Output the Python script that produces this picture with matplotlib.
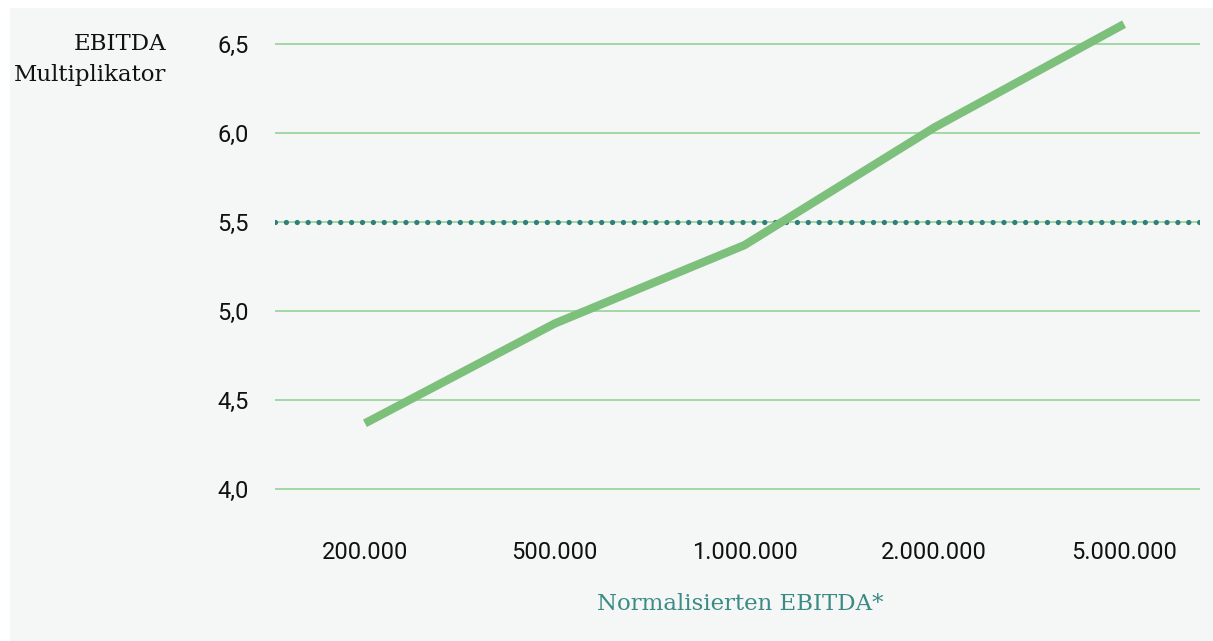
import matplotlib.pyplot as plt
from matplotlib.patches import Rectangle
from matplotlib.ticker import FuncFormatter

# EBITDA-Multiplikator je nach Höhe des normalisierten EBITDA
ebitda = ['200.000', '500.000', '1.000.000', '2.000.000', '5.000.000']
multiplikator = [4.37, 4.93, 5.37, 6.03, 6.61]
durchschnitt = 5.5
y_ticks = [4.0, 4.5, 5.0, 5.5, 6.0, 6.5]

W, H = 1213, 641
fig = plt.figure(figsize=(W / 100, H / 100), dpi=100, facecolor='white')
bg = '#f5f7f6'
fig.patches.append(Rectangle((10 / W, 0), 1, 1 - 8 / H, transform=fig.transFigure,
                             facecolor=bg, edgecolor='none', zorder=-10))

left, right = 275, 1200
top, bottom = 17, 516
ax = fig.add_axes([left / W, 1 - bottom / H, (right - left) / W, (bottom - top) / H])
ax.set_facecolor('none')

x = list(range(len(ebitda)))
ax.plot(x, multiplikator, color='#7cc07c', lw=6, solid_capstyle='butt', zorder=3)

for v in y_ticks:
    ax.axhline(v, color='#8fcf8f', lw=1.1, zorder=1)
ax.axhline(durchschnitt, color='#2f7f7c', lw=3.8, ls=(0, (0.01, 2.05)),
           dash_capstyle='round', zorder=2)

ax.set_ylim(3.85, 6.65)
ax.set_xlim(-0.474, 4.40)
ax.set_yticks(y_ticks)
ax.yaxis.set_major_formatter(FuncFormatter(lambda v, p: f'{v:.1f}'.replace('.', ',')))
ax.set_xticks(x)
ax.set_xticklabels(ebitda)
ax.tick_params(length=0, labelsize=17, colors='#111111')
ax.tick_params(axis='y', pad=19)
ax.tick_params(axis='x', pad=18)
for lab in ax.get_xticklabels() + ax.get_yticklabels():
    lab.set_fontfamily('Roboto')
for s in ax.spines.values():
    s.set_visible(False)

fig.text(166 / W, 1 - 44 / H, 'EBITDA', ha='right', va='center',
         fontsize=16.5, family='DejaVu Serif', color='#111111')
fig.text(166 / W, 1 - 75 / H, 'Multiplikator', ha='right', va='center',
         fontsize=16.5, family='DejaVu Serif', color='#111111')
fig.text(740 / W, 1 - 604 / H, 'Normalisierten EBITDA*', ha='center', va='center',
         fontsize=16.5, family='DejaVu Serif', color='#3a8a85')

fig.savefig('out.png', dpi=100, facecolor='white')
